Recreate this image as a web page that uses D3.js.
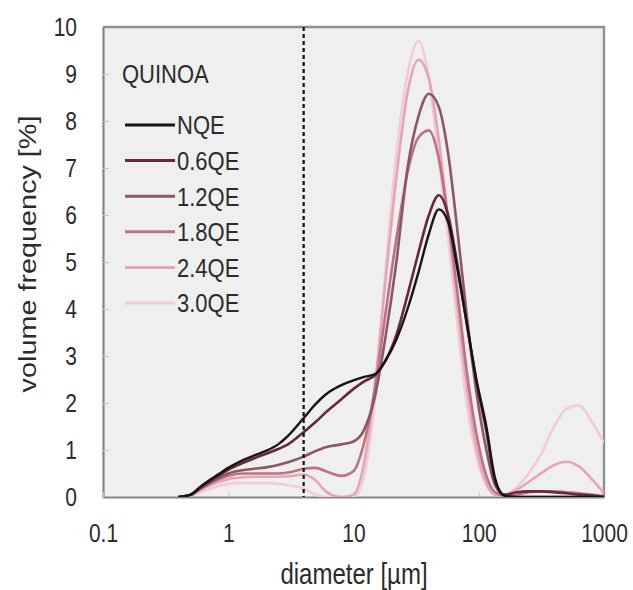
<!DOCTYPE html>
<html>
<head>
<meta charset="utf-8">
<script src="https://cdn.jsdelivr.net/npm/d3@7"></script>
<style>
  html, body { margin: 0; padding: 0; background: #fff; }
  svg { display: block; }
  text { font-family: "Liberation Sans", Arial, sans-serif; fill: #2b2b2b; }
</style>
</head>
<body>
<svg id="chart" width="633" height="590"></svg>
<script>
// Particle size distribution of quinoa samples (laser diffraction)
const diameters = [0.4, 0.5, 0.6, 0.8, 1, 1.3, 1.6, 2, 2.5, 3, 4, 5, 6, 8, 10, 12, 15, 18, 22, 27, 33, 40, 48, 57, 68, 80, 95, 115, 135, 160, 200, 250, 320, 400, 500, 630, 800, 1000];

const seriesNames = ["NQE", "0.6QE", "1.2QE", "1.8QE", "2.4QE", "3.0QE"];
const seriesColors = ["#141414", "#66293a", "#8c5664", "#bb7383", "#e5a5b3", "#f2ccd4"];

const nqe   = [0, 0.05, 0.22, 0.45, 0.62, 0.78, 0.88, 0.98, 1.12, 1.3, 1.68, 1.98, 2.18, 2.38, 2.48, 2.55, 2.62, 2.9, 3.35, 4.0, 4.78, 5.6, 6.12, 5.85, 4.8, 3.72, 2.55, 1.5, 0.4, 0.03, 0, 0, 0, 0, 0, 0, 0, 0];
const qe06  = [0, 0.05, 0.2, 0.42, 0.58, 0.72, 0.82, 0.92, 1.02, 1.12, 1.38, 1.6, 1.8, 2.08, 2.3, 2.45, 2.6, 2.9, 3.45, 4.3, 5.2, 6.0, 6.42, 6.0, 4.9, 3.7, 2.5, 1.4, 0.32, 0.05, 0.1, 0.12, 0.12, 0.1, 0.08, 0.05, 0.03, 0];
const qe12  = [0, 0.04, 0.18, 0.38, 0.5, 0.57, 0.6, 0.63, 0.68, 0.74, 0.86, 0.98, 1.06, 1.12, 1.18, 1.4, 2.2, 3.4, 5.0, 7.0, 8.1, 8.58, 8.3, 7.3, 5.6, 3.9, 2.3, 1.0, 0.25, 0.04, 0, 0, 0, 0, 0, 0, 0, 0];
const qe18  = [0, 0.05, 0.18, 0.35, 0.45, 0.5, 0.5, 0.5, 0.5, 0.52, 0.6, 0.62, 0.55, 0.45, 0.55, 1.1, 2.4, 3.9, 5.5, 6.9, 7.65, 7.8, 7.2, 5.9, 4.3, 2.7, 1.4, 0.45, 0.1, 0.03, 0.05, 0.1, 0.12, 0.12, 0.1, 0.08, 0.05, 0.02];
const qe24  = [0, 0.04, 0.15, 0.3, 0.38, 0.42, 0.43, 0.43, 0.43, 0.44, 0.48, 0.35, 0.12, 0, 0.05, 0.65, 2.5, 4.6, 6.8, 8.6, 9.3, 8.9, 7.6, 5.9, 4.0, 2.4, 1.1, 0.3, 0.05, 0.05, 0.15, 0.32, 0.52, 0.68, 0.75, 0.65, 0.38, 0.08];
const qe30  = [0, 0.03, 0.1, 0.22, 0.28, 0.3, 0.3, 0.3, 0.28, 0.25, 0.18, 0.05, 0, 0, 0, 0.4, 2.2, 4.8, 7.3, 9.0, 9.7, 8.9, 7.2, 5.5, 3.6, 2.0, 0.9, 0.25, 0.05, 0.05, 0.2, 0.5, 0.95, 1.5, 1.88, 1.95, 1.6, 1.15];

const seriesValues = [nqe, qe06, qe12, qe18, qe24, qe30];

const xTicks = [0.1, 1, 10, 100, 1000];
const yTicks = [0, 1, 2, 3, 4, 5, 6, 7, 8, 9, 10];
const cutoffDiameter = 4;

const svg = d3.select("#chart");
const plot = { left: 103, right: 604, top: 27, bottom: 497 };
const stretch = 1.2; // vertical stretch of all lettering

const x = d3.scaleLog().domain([0.1, 1000]).range([plot.left, plot.right]);
const y = d3.scaleLinear().domain([0, 10]).range([plot.bottom, plot.top]);

// plot background
svg.append("rect")
  .attr("x", plot.left).attr("y", plot.top)
  .attr("width", plot.right - plot.left).attr("height", plot.bottom - plot.top)
  .attr("fill", "#efefef");

svg.append("clipPath").attr("id", "plotClip")
  .append("rect")
  .attr("x", plot.left).attr("y", plot.top)
  .attr("width", plot.right - plot.left).attr("height", plot.bottom - plot.top);

// axes
const yAxis = svg.append("g")
  .attr("transform", `translate(${plot.left},0)`)
  .call(d3.axisLeft(y).tickValues(yTicks).tickFormat(d3.format("d")).tickSizeInner(-6).tickSizeOuter(0).tickPadding(26));
yAxis.select(".domain").attr("stroke", "#858585").attr("stroke-width", 2.2);
yAxis.selectAll(".tick line").attr("stroke", "#c4c4c4").attr("stroke-width", 1);
yAxis.selectAll(".tick text")
  .attr("font-size", 21).attr("fill", "#2b2b2b")
  .attr("transform", `scale(1,${stretch})`);

const xAxis = svg.append("g")
  .attr("transform", `translate(0,${plot.bottom})`)
  .call(d3.axisBottom(x).tickValues(xTicks).tickFormat(d => String(d)).tickSizeInner(-5).tickSizeOuter(0).tickPadding(0));
xAxis.select(".domain").attr("stroke", "#858585").attr("stroke-width", 2.2);
xAxis.selectAll(".tick line").attr("stroke", "#c4c4c4").attr("stroke-width", 1);
xAxis.selectAll(".tick text")
  .attr("font-size", 21).attr("fill", "#2b2b2b")
  .attr("y", 23)
  .attr("transform", `scale(1,${stretch})`);

// top and right frame
svg.append("path")
  .attr("d", `M${plot.left},${plot.top}H${plot.right}V${plot.bottom}`)
  .attr("fill", "none").attr("stroke", "#8f8f8f").attr("stroke-width", 2.4);

// size distribution curves
const line = d3.line()
  .x(d => x(d[0]))
  .y(d => y(d[1]))
  .curve(d3.curveMonotoneX);

const curves = svg.append("g").attr("clip-path", "url(#plotClip)");
const order = [5, 4, 3, 2, 1, 0];
order.forEach(i => {
  const pts = diameters.map((dm, k) => [dm, seriesValues[i][k]]);
  curves.append("path")
    .attr("d", line(pts))
    .attr("fill", "none")
    .attr("stroke", seriesColors[i])
    .attr("stroke-width", i === 0 ? 2.4 : 2.6)
    .attr("stroke-linejoin", "round");
});

// cut-off diameter
svg.append("line")
  .attr("x1", x(cutoffDiameter)).attr("x2", x(cutoffDiameter))
  .attr("y1", plot.top).attr("y2", plot.bottom)
  .attr("stroke", "#111").attr("stroke-width", 2.2)
  .attr("stroke-dasharray", "4,3");

// legend
const legend = svg.append("g");
legend.append("text")
  .attr("transform", `translate(122,82.5) scale(1,${stretch})`)
  .attr("font-size", 22)
  .text("QUINOA");

seriesNames.forEach((name, i) => {
  const cy = 125 + i * 35.6;
  legend.append("line")
    .attr("x1", 125).attr("x2", 175)
    .attr("y1", cy).attr("y2", cy)
    .attr("stroke", seriesColors[i]).attr("stroke-width", 3);
  legend.append("text")
    .attr("transform", `translate(177,${cy + 9.4}) scale(1,${stretch})`)
    .attr("font-size", 22)
    .text(name);
});

// axis titles
svg.append("text")
  .attr("transform", `translate(354,584) scale(1,${stretch})`)
  .attr("text-anchor", "middle")
  .attr("font-size", 24)
  .text("diameter [µm]");

svg.append("text")
  .attr("transform", `translate(36,254) rotate(-90) scale(${stretch},1)`)
  .attr("text-anchor", "middle")
  .attr("font-size", 24)
  .text("volume frequency [%]");
</script>
</body>
</html>
